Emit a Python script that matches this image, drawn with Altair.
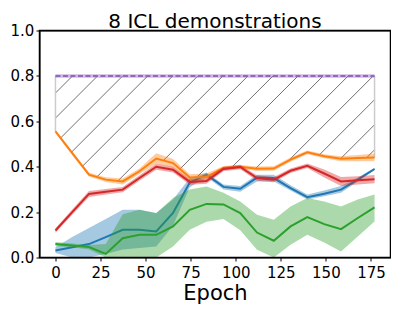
import numpy as np
import pandas as pd
import altair as alt

# ---------------- data ----------------
epochs = [0.0, 9.3, 18.6, 27.9, 37.3, 46.6, 55.9, 65.2, 74.5, 83.8,
          93.2, 102.5, 111.8, 121.1, 130.4, 139.7, 149.1, 158.4, 167.7, 177.0]

blue_mean = [0.031, 0.045, 0.059, 0.090, 0.122, 0.122, 0.115, 0.196, 0.330, 0.365,
             0.311, 0.303, 0.352, 0.350, 0.306, 0.266, 0.281, 0.299, 0.343, 0.390]
blue_lo = [0.020, 0.000, 0.000, 0.015, 0.035, 0.042, 0.048, 0.140, 0.310, 0.355,
           0.300, 0.290, 0.335, 0.335, 0.295, 0.255, 0.270, 0.285, 0.335, 0.385]
blue_hi = [0.045, 0.090, 0.130, 0.170, 0.210, 0.210, 0.196, 0.255, 0.350, 0.375,
           0.322, 0.315, 0.365, 0.365, 0.318, 0.278, 0.295, 0.315, 0.352, 0.395]

orange_mean = [0.556, 0.460, 0.365, 0.343, 0.335, 0.380, 0.436, 0.416, 0.352, 0.355,
               0.394, 0.400, 0.391, 0.392, 0.431, 0.463, 0.446, 0.435, 0.438, 0.441]
orange_lo = [0.550, 0.452, 0.357, 0.333, 0.322, 0.368, 0.413, 0.398, 0.337, 0.340,
             0.385, 0.392, 0.381, 0.382, 0.422, 0.455, 0.437, 0.424, 0.424, 0.424]
orange_hi = [0.562, 0.468, 0.373, 0.353, 0.348, 0.392, 0.459, 0.434, 0.367, 0.370,
             0.403, 0.408, 0.401, 0.402, 0.440, 0.471, 0.455, 0.446, 0.452, 0.458]

green_mean = [0.060, 0.053, 0.046, 0.016, 0.085, 0.100, 0.100, 0.137, 0.210, 0.236,
              0.234, 0.196, 0.110, 0.074, 0.137, 0.178, 0.147, 0.125, 0.174, 0.221]
green_lo = [0.050, 0.045, 0.035, 0.000, 0.000, 0.000, 0.000, 0.049, 0.122, 0.158,
            0.170, 0.120, 0.034, 0.000, 0.056, 0.100, 0.066, 0.026, 0.093, 0.159]
green_hi = [0.068, 0.062, 0.055, 0.060, 0.190, 0.210, 0.195, 0.262, 0.300, 0.313,
            0.285, 0.247, 0.188, 0.166, 0.225, 0.262, 0.247, 0.225, 0.255, 0.277]

red_mean = [0.119, 0.200, 0.280, 0.290, 0.299, 0.350, 0.400, 0.387, 0.333, 0.337,
            0.390, 0.399, 0.350, 0.343, 0.382, 0.404, 0.370, 0.335, 0.340, 0.345]
red_lo = [0.109, 0.188, 0.267, 0.278, 0.287, 0.338, 0.387, 0.374, 0.321, 0.325,
          0.380, 0.389, 0.338, 0.331, 0.372, 0.394, 0.352, 0.315, 0.322, 0.327]
red_hi = [0.129, 0.212, 0.293, 0.302, 0.311, 0.362, 0.413, 0.400, 0.345, 0.349,
          0.400, 0.409, 0.362, 0.355, 0.392, 0.414, 0.388, 0.355, 0.358, 0.363]

upper_value = 0.8            # purple dashed reference level
title_text = "8 ICL demonstrations"
x_title = "Epoch"
x_ticks = [0, 25, 50, 75, 100, 125, 150, 175]
y_ticks = [0.0, 0.2, 0.4, 0.6, 0.8, 1.0]

# ---------------- layout ----------------
W, H = 351, 227
x_dom = [-8.85, 185.85]
y_dom = [0.0, 1.0]

xs = alt.Scale(domain=x_dom, nice=False, zero=False)
ys = alt.Scale(domain=y_dom, nice=False, zero=False)

series = [
    ("blue", "#1f77b4", blue_mean, blue_lo, blue_hi),
    ("orange", "#ff7f0e", orange_mean, orange_lo, orange_hi),
    ("green", "#2ca02c", green_mean, green_lo, green_hi),
    ("red", "#d62728", red_mean, red_lo, red_hi),
]

# ---------------- hatch region: between max of series and the 0.8 level ----------------
ex = np.array(epochs)
lower = np.max(np.vstack([blue_mean, orange_mean, green_mean, red_mean]), axis=0)
px_per_x = W / (x_dom[1] - x_dom[0])
px_per_y = H / (y_dom[1] - y_dom[0])
slope = px_per_x / px_per_y          # 45 degree lines in pixel space
spacing = 13.9                        # in epochs
phase = 9.5
grid = np.linspace(ex[0], ex[-1], 3541)
low_g = np.interp(grid, ex, lower)
segs = []
k = 0
while True:
    xt = phase + spacing * k
    if xt - (upper_value - lower.min()) / slope > ex[-1] + spacing:
        break
    yy = upper_value + slope * (grid - xt)
    m = (yy <= upper_value + 1e-9) & (yy >= low_g)
    idx = np.where(m)[0]
    if idx.size:
        breaks = np.where(np.diff(idx) > 1)[0]
        starts = np.concatenate([[idx[0]], idx[breaks + 1]])
        ends = np.concatenate([idx[breaks], [idx[-1]]])
        for a, b in zip(starts, ends):
            if b > a:
                segs.append({"x": grid[a], "y": yy[a], "x2": grid[b], "y2": yy[b]})
    k += 1
hatch_df = pd.DataFrame(segs)

hatch = alt.Chart(hatch_df).mark_rule(color="#707070", strokeWidth=1, clip=True).encode(
    x=alt.X("x:Q", scale=xs), y=alt.Y("y:Q", scale=ys),
    x2="x2:Q", y2="y2:Q")

edge_df = pd.DataFrame({"x": [epochs[0], epochs[-1]],
                        "y": [lower[0], lower[-1]],
                        "y2": [upper_value, upper_value]})
edges = alt.Chart(edge_df).mark_rule(color="#cccccc", strokeWidth=1.5).encode(
    x=alt.X("x:Q", scale=xs), y=alt.Y("y:Q", scale=ys), y2="y2:Q")

layers = [hatch, edges]
for name, col, mean, lo, hi in series:
    df = pd.DataFrame({"x": epochs, "mean": mean, "lo": lo, "hi": hi})
    band = alt.Chart(df).mark_area(color=col, opacity=0.4, clip=True).encode(
        x=alt.X("x:Q", scale=xs), y=alt.Y("lo:Q", scale=ys), y2="hi:Q")
    line = alt.Chart(df).mark_line(color=col, strokeWidth=2, clip=True).encode(
        x=alt.X("x:Q", scale=xs), y=alt.Y("mean:Q", scale=ys))
    layers += [band, line]

purple_df = pd.DataFrame({"x": [epochs[0], epochs[-1]], "y": [upper_value, upper_value]})
purple_band = alt.Chart(purple_df).mark_line(color="#9467bd", opacity=0.45, strokeWidth=3.5).encode(
    x=alt.X("x:Q", scale=xs), y=alt.Y("y:Q", scale=ys))
purple_line = alt.Chart(purple_df).mark_line(color="#9467bd", strokeWidth=2, strokeDash=[5, 2.5]).encode(
    x=alt.X("x:Q", scale=xs), y=alt.Y("y:Q", scale=ys))
layers += [purple_band, purple_line]

# plot frame (matplotlib-style box)
frame_df = pd.DataFrame({"f": [1]})
frame = alt.Chart(frame_df).mark_rect(fillOpacity=0, stroke="black", strokeWidth=1.5).encode(
    x=alt.value(0), x2=alt.value(W), y=alt.value(0), y2=alt.value(H))

# chart title as a text mark centred above the plot
title_df = pd.DataFrame({"t": [title_text]})
title = alt.Chart(title_df).mark_text(font="DejaVu Sans", fontSize=20, color="black",
                                      align="center", baseline="alphabetic").encode(
    text="t:N", x=alt.value(W / 2), y=alt.value(-3))

# axes carrier
axis_df = pd.DataFrame({"x": [x_dom[0]], "y": [y_dom[0]]})
axes = alt.Chart(axis_df).mark_point(opacity=0).encode(
    x=alt.X("x:Q", scale=xs, title=x_title,
            axis=alt.Axis(values=x_ticks, format="d", domain=False, grid=False,
                          tickSize=3.5, tickWidth=1, tickColor="black",
                          labelPadding=4.3, labelFontSize=15, labelColor="black",
                          labelFont="DejaVu Sans", titleFont="DejaVu Sans",
                          titleFontSize=21, titleFontWeight="normal", titleColor="black",
                          titleBaseline="alphabetic", titleY=42, labelFlush=False)),
    y=alt.Y("y:Q", scale=ys, title=None,
            axis=alt.Axis(values=y_ticks, format=".1f", domain=False, grid=False,
                          tickSize=3.5, tickWidth=1, tickColor="black",
                          labelPadding=2.2, labelFontSize=15, labelColor="black",
                          labelFont="DejaVu Sans", labelFlush=False)),
)

chart = alt.layer(axes, *layers, frame, title).properties(
    width=W, height=H,
    autosize=alt.AutoSizeParams(type="none"),
    padding={"left": 31.5, "top": 22.5, "right": 0, "bottom": 47},
).configure(background="white", view=alt.ViewConfig(stroke="black", strokeWidth=1))

chart.save("out.html", embed_options={"renderer": "svg", "actions": False})
